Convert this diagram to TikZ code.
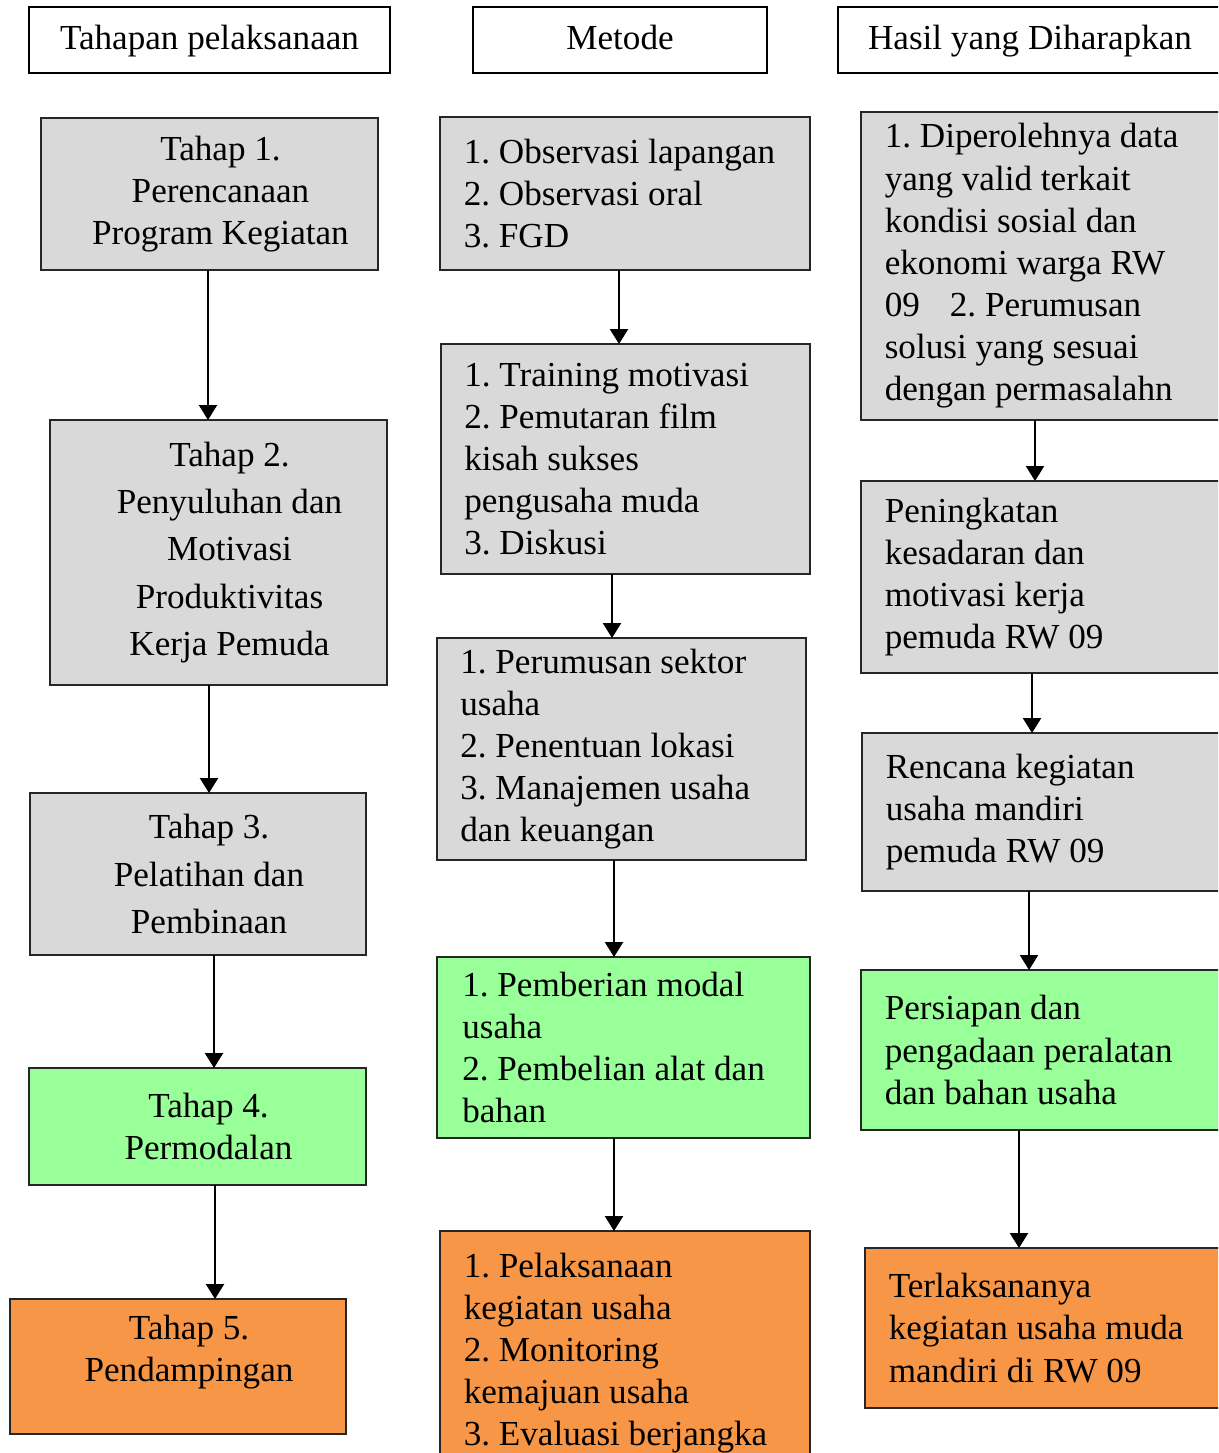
\documentclass[tikz,border=0pt]{standalone}
\usepackage{fontspec}
\setmainfont{Liberation Serif}
\usetikzlibrary{arrows.meta,calc}
\definecolor{boxgray}{HTML}{D9D9D9}
\definecolor{boxgreen}{HTML}{99FF99}
\definecolor{boxorange}{HTML}{F79646}
\frenchspacing

\begin{document}
\begin{tikzpicture}[x=0.02cm, y=-0.02cm]
  \tikzstyle{every node} = [font=\fontsize{20}{24}\selectfont, outer sep=0pt]
  \tikzstyle{HeadStyle} = [draw=black, line width=0.9pt, fill=white,
                           minimum height=1.32cm, inner sep=0pt,
                           text height=16pt, text depth=5pt]
  \tikzstyle{BoxStyle} = [draw=black!85, line width=1.2pt, inner ysep=4pt]
  \tikzstyle{StepStyle} = [BoxStyle, inner xsep=0.3cm, text width=6.1cm,
                           align=flush center,
                           execute at begin node={\leftskip=0.44cm plus 1fil
                             \rightskip=0pt plus 1fil \parfillskip=0pt}]
  \tikzstyle{ListStyle} = [BoxStyle, inner xsep=0.47cm, text width=6.45cm,
                           align=flush left]
  \tikzstyle{EdgeStyle} = [line width=1.3pt, -{Triangle[width=0.36cm,length=0.3cm]}]
\useasboundingbox (0,0) rectangle (1218,1453);
\clip (0,0) rectangle (1218,1453);

\node[HeadStyle, minimum width=7.22cm] (H1) at (209.5,40) {Tahapan pelaksanaan};
\node[HeadStyle, minimum width=5.88cm] (H2) at (620,40) {Metode};
\node[HeadStyle, minimum width=7.68cm] (H3) at (1030,40) {Hasil yang Diharapkan};

\node[StepStyle, fill=boxgray, minimum width=6.74cm, minimum height=3.04cm]
  (T1) at (209.5,194) {Tahap 1.\\Perencanaan\\Program Kegiatan};
\node[StepStyle, fill=boxgray, minimum width=6.74cm, minimum height=5.30cm,
  font=\fontsize{20}{27}\selectfont]
  (T2) at (218.5,552.5) {Tahap 2.\\Penyuluhan dan\\Motivasi\\Produktivitas\\Kerja Pemuda};
\node[StepStyle, fill=boxgray, minimum width=6.72cm, minimum height=3.24cm,
  font=\fontsize{20}{27}\selectfont]
  (T3) at (198,874) {Tahap 3.\\Pelatihan dan\\Pembinaan};
\node[StepStyle, fill=boxgreen, minimum width=6.74cm, minimum height=2.34cm]
  (T4) at (197.5,1126.5) {Tahap 4.\\Permodalan};
\node[StepStyle, fill=boxorange, minimum width=6.72cm, minimum height=2.70cm]
  (T5) at (178,1366.5) {Tahap 5.\\Pendampingan\\[-0.13cm]\mbox{}};

\node[ListStyle, fill=boxgray, minimum width=7.40cm, minimum height=3.06cm]
  (M1) at (625,193.5) {1. Observasi lapangan\\2. Observasi oral\\3. FGD};
\node[ListStyle, fill=boxgray, minimum width=7.38cm, minimum height=4.60cm]
  (M2) at (625.5,459) {1. Training motivasi\\2. Pemutaran film\\kisah sukses\\pengusaha muda\\3. Diskusi};
\node[ListStyle, fill=boxgray, minimum width=7.38cm, minimum height=4.44cm]
  (M3) at (621.5,749) {1. Perumusan sektor\\usaha\\2. Penentuan lokasi\\3. Manajemen usaha\\dan keuangan};
\node[ListStyle, fill=boxgreen, minimum width=7.46cm, minimum height=3.62cm]
  (M4) at (623.5,1047.5) {1. Pemberian modal\\usaha\\2. Pembelian alat dan\\bahan};
\node[ListStyle, fill=boxorange, minimum width=7.40cm, minimum height=4.88cm]
  (M5) at (625,1353) {1. Pelaksanaan\\kegiatan usaha\\2. Monitoring\\kemajuan usaha\\3. Evaluasi berjangka};

\node[ListStyle, fill=boxgray, minimum width=7.40cm, minimum height=6.16cm]
  (R1) at (1046,266) {1. Diperolehnya data\\yang valid terkait\\kondisi sosial dan\\ekonomi warga RW\\09\hspace{0.6cm}2. Perumusan\\solusi yang sesuai\\dengan permasalahn};
\node[ListStyle, fill=boxgray, minimum width=7.40cm, minimum height=3.84cm]
  (R2) at (1046,577) {Peningkatan\\kesadaran dan\\motivasi kerja\\pemuda RW 09};
\node[ListStyle, fill=boxgray, minimum width=7.40cm, minimum height=3.16cm]
  (R3) at (1047,812) {Rencana kegiatan\\usaha mandiri\\pemuda RW 09};
\node[ListStyle, fill=boxgreen, minimum width=7.40cm, minimum height=3.20cm]
  (R4) at (1046,1050) {Persiapan dan\\pengadaan peralatan\\dan bahan usaha};
\node[ListStyle, fill=boxorange, minimum width=7.40cm, minimum height=3.20cm]
  (R5) at (1050,1328) {Terlaksananya\\kegiatan usaha muda\\mandiri di RW 09};

\draw[EdgeStyle] ($(T1.south)+(-1.5,0)$) -- ($(T1.south|-T2.north)+(-1.5,0)$);
\draw[EdgeStyle] ($(T2.south)+(-9.5,0)$) -- ($(T2.south|-T3.north)+(-9.5,0)$);
\draw[EdgeStyle] ($(T3.south)+(16,0)$) -- ($(T3.south|-T4.north)+(16,0)$);
\draw[EdgeStyle] ($(T4.south)+(17.5,0)$) -- ($(T4.south|-T5.north)+(17.5,0)$);

\draw[EdgeStyle] ($(M1.south)+(-6,0)$) -- ($(M1.south|-M2.north)+(-6,0)$);
\draw[EdgeStyle] ($(M2.south)+(-13.5,0)$) -- ($(M2.south|-M3.north)+(-13.5,0)$);
\draw[EdgeStyle] ($(M3.south)+(-7.5,0)$) -- ($(M3.south|-M4.north)+(-7.5,0)$);
\draw[EdgeStyle] ($(M4.south)+(-9.5,0)$) -- ($(M4.south|-M5.north)+(-9.5,0)$);

\draw[EdgeStyle] ($(R1.south)+(-11,0)$) -- ($(R1.south|-R2.north)+(-11,0)$);
\draw[EdgeStyle] ($(R2.south)+(-14,0)$) -- ($(R2.south|-R3.north)+(-14,0)$);
\draw[EdgeStyle] ($(R3.south)+(-18,0)$) -- ($(R3.south|-R4.north)+(-18,0)$);
\draw[EdgeStyle] ($(R4.south)+(-27,0)$) -- ($(R4.south|-R5.north)+(-27,0)$);

\end{tikzpicture}
\end{document}
